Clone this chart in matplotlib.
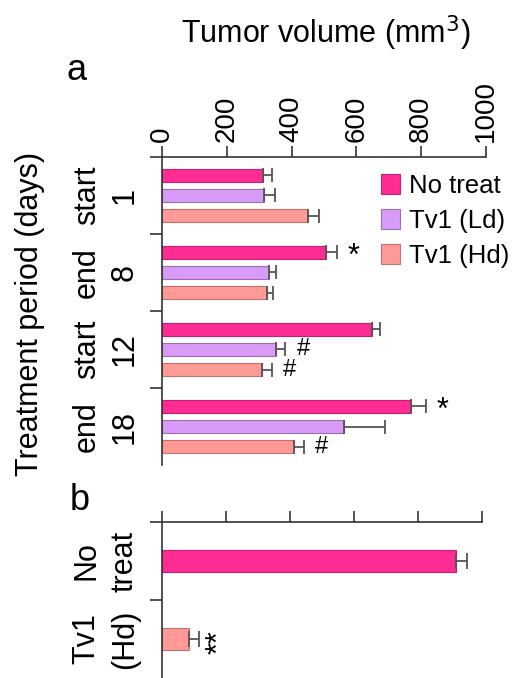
import numpy as np
import matplotlib.pyplot as plt

plt.rcParams['font.family'] = ['Liberation Sans', 'DejaVu Sans']

# panel a data
groups = ['start\n1', 'end\n8', 'start\n12', 'end\n18']
series = ['No treat', 'Tv1 (Ld)', 'Tv1 (Hd)']
no_treat = [312, 506, 647, 770]
no_treat_err = [27, 33, 26, 44]
tv1_ld = [316, 330, 351, 562]
tv1_ld_err = [33, 22, 30, 126]
tv1_hd = [452, 323, 308, 408]
tv1_hd_err = [34, 21, 32, 30]
marks_no_treat = ['', '*', '', '*']
marks_ld = ['', '', '#', '']
marks_hd = ['', '', '#', '#']

# panel b data
b_labels = ['No\ntreat', 'Tv1\n(Hd)']
b_values = [918, 83]
b_err = [34, 32]
b_marks = ['', '**']

colors = ['#FF2D93', '#D99BF8', '#FF9A96']
edges = ['#C81E70', '#9A70B0', '#C87070']
err_col = '#555555'

W, H = 515, 678
fig = plt.figure(figsize=(W / 100, H / 100), dpi=100)

def box(x0, y0, x1, y1):
    return [x0 / W, 1 - y1 / H, (x1 - x0) / W, (y1 - y0) / H]

def style(ax, n):
    for s in ['right', 'bottom']:
        ax.spines[s].set_visible(False)
    for s in ['left', 'top']:
        ax.spines[s].set_linewidth(1.2)
        ax.spines[s].set_color('#333333')
    ax.xaxis.tick_top()
    ax.set_xlim(0, 1000)
    ax.set_xticks([0, 200, 400, 600, 800, 1000])
    ax.tick_params(axis='x', direction='out', length=8, width=1.2, colors='#333333',
                   labelcolor='black', pad=3)
    ax.set_ylim(n - 0.5, -0.5)
    ax.set_yticks(np.arange(n))
    ax.set_yticks(np.arange(n) - 0.5, minor=True)
    ax.tick_params(axis='y', which='major', length=0, pad=16)
    ax.tick_params(axis='y', which='minor', length=9, width=1.2, colors='#333333')

# ---- panel a ----
ax = fig.add_axes(box(162, 157, 486, 465))
style(ax, len(groups))
y = np.arange(len(groups))
offsets = [-0.26, 0, 0.26]
vals = [no_treat, tv1_ld, tv1_hd]
errs = [no_treat_err, tv1_ld_err, tv1_hd_err]
marks = [marks_no_treat, marks_ld, marks_hd]
for i in range(3):
    ax.barh(y + offsets[i], vals[i], height=0.17, color=colors[i], edgecolor=edges[i],
            linewidth=0.8, label=series[i],
            xerr=[np.zeros(len(groups)), errs[i]],
            error_kw=dict(ecolor=err_col, elinewidth=1.3, capsize=5, capthick=1.3))
    for j in range(len(groups)):
        if marks[i][j]:
            fs = 22 if marks[i][j] == '*' else 17
            dy = 3 if marks[i][j] == '*' else 0
            ax.annotate(marks[i][j], (vals[i][j] + errs[i][j], y[j] + offsets[i]),
                        xytext=(8, -dy), textcoords='offset points', ha='left',
                        va='center', fontsize=fs)
ax.set_xticklabels(['0', '200', '400', '600', '800', '1000'], rotation=90, fontsize=20)
ax.set_yticklabels(groups, rotation=90, fontsize=22, ha='right', va='center',
                   multialignment='center', linespacing=1.35)
ax.legend(loc='upper left', bbox_to_anchor=(0.675, 0.945), frameon=False, fontsize=18.5,
          handlelength=0.75, handleheight=0.85, handletextpad=0.35, labelspacing=0.42,
          borderaxespad=0, borderpad=0)

# ---- panel b ----
bx = fig.add_axes(box(162, 522, 482, 678))
style(bx, len(b_labels))
yb = np.arange(len(b_labels))
bx.barh(yb, b_values, height=0.29, color=[colors[0], colors[2]],
        edgecolor=[edges[0], edges[2]], linewidth=0.8,
        xerr=[np.zeros(len(b_labels)), b_err],
        error_kw=dict(ecolor=err_col, elinewidth=1.3, capsize=6, capthick=1.3))
for j in range(len(b_labels)):
    if b_marks[j]:
        bx.annotate(b_marks[j], (b_values[j] + b_err[j], yb[j]), xytext=(4, -2),
                    textcoords='offset points', ha='left', va='center',
                    fontsize=22, rotation=90)
bx.set_xticklabels([])
bx.set_yticklabels(b_labels, rotation=90, fontsize=22, ha='right', va='center',
                   multialignment='center', linespacing=1.35)

fig.text(326 / W, 1 - 33 / H, 'Tumor volume (mm$^3$)', fontsize=22, ha='center', va='center')
fig.text(30 / W, 1 - 314 / H, 'Treatment period (days)', fontsize=22, rotation=90,
         ha='center', va='center')
fig.text(77 / W, 1 - 70 / H, 'a', fontsize=26, ha='center', va='center')
fig.text(80 / W, 1 - 500 / H, 'b', fontsize=26, ha='center', va='center')

fig.savefig('out.png', dpi=100)
